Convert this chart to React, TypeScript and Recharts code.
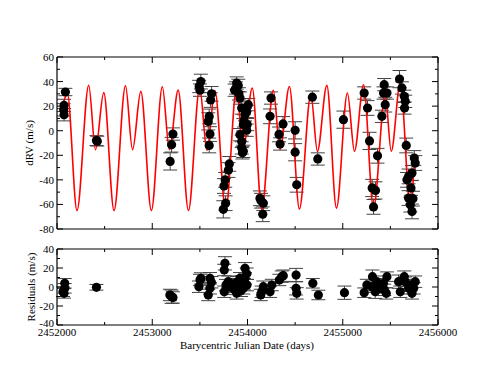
import { ComposedChart, Line, Scatter, ErrorBar, XAxis, YAxis } from "recharts";

// ---------------------------------------------------------------------------
// Data
// ---------------------------------------------------------------------------

const xTicks = [
  2452000, 2452500, 2453000, 2453500, 2454000, 2454500, 2455000, 2455500, 2456000,
];
const rvTicks = [-80, -70, -60, -50, -40, -30, -20, -10, 0, 10, 20, 30, 40, 50, 60];
const resTicks = [-40, -30, -20, -10, 0, 10, 20, 30, 40];

// Keplerian model curve (extrema)
const modelDates = [
  2452053, 2452109, 2452210, 2452333, 2452404, 2452491, 2452599, 2452719, 2452793,
  2452880, 2452991, 2453106, 2453180, 2453272, 2453380, 2453498, 2453574, 2453658,
  2453771, 2453886, 2453953, 2454050, 2454149, 2454271, 2454342, 2454440, 2454545,
  2454665, 2454734, 2454833, 2454934, 2455049, 2455123, 2455218, 2455323, 2455446,
  2455509, 2455604, 2455709, 2455754,
];
const modelRV = [
  18.5, 30, -65, 37, -15.5, 31, -65, 36.6, -15.5,
  32, -65, 35.8, -15.5, 33, -65, 35, -16, 32.5,
  -65, 35.5, -16, 34.8, -64, 32.8, -15, 36, -63.7,
  29.5, -16.8, 36.9, -63, 30.7, -16.8, 37.4, -63, 29.3,
  -16.8, 38.8, -62, -22,
];

// Measured radial velocities
const rvDates = [
  2452074, 2452070, 2452074, 2452088, 2452414, 2452423, 2453188, 2453203, 2453217,
  2453493, 2453501, 2453510, 2453613, 2453623, 2453588, 2453598, 2453606, 2453598,
  2453746, 2453753, 2453766, 2453770, 2453800, 2453809,
  2453865, 2453879, 2453886, 2453903, 2453910, 2453921, 2453921, 2453939, 2453939,
  2453939, 2453947, 2453956, 2453956, 2453963, 2453974, 2453992, 2453992, 2453997,
  2454008, 2454131, 2454142, 2454160, 2454166, 2454237, 2454247, 2454331, 2454342,
  2454373, 2454500, 2454500, 2454517, 2454681, 2454738, 2455007, 2455225, 2455260,
  2455281, 2455309, 2455323, 2455344, 2455365, 2455411, 2455428, 2455435, 2455446,
  2455464, 2455596, 2455621, 2455646, 2455649, 2455656, 2455667, 2455674, 2455691,
  2455691, 2455709, 2455716, 2455727, 2455727, 2455737, 2455751, 2455761,
];
const rvValues = [
  13, 17, 20.6, 31.5, -8, -8.5, -25, -11.4, -2.7,
  36, 33, 40, 25, 30, 7.6, 11.6, -2.7, -12,
  -64, -45, -40, -59, -32, -27,
  33, 34.8, 38.8, 36.9, 30, 26.6, -3.2, 18.5, -8.7,
  -14, -18, 4.9, -16.8, 8, 13, 15.7, 0.4, 5,
  21.2, -55, -57, -68, -59, 11.7, 26.6, -3, -10.8,
  5.5, 0.3, -17.5, -44, 27.3, -23, 9, 30.7, 18.5,
  -8.3, -46.6, -62, -48.6, -20.4, 11.7, 30.7, 37.5, 21.2,
  30.7, 42, 34.8, 28, 18.5, 23.9, -12, -40, -37.2,
  -54.8, -60.2, -46.6, -65.7, -34.4, -55.3, -22.2, -26.3,
];
const rvErrors = [
  5, 5, 5, 3, 4, 4, 7, 6, 5,
  5, 5, 6, 6, 6, 7, 6, 6, 6,
  7, 6, 6, 6, 6, 6,
  5, 5, 5, 5, 5, 5, 5, 5, 5,
  5, 5, 5, 5, 5, 5, 5, 5, 5,
  5, 6, 6, 6, 6, 6, 5, 6, 5,
  6, 7, 7, 6, 5, 5, 7, 5, 6,
  7, 7, 6, 7, 6, 5, 5, 5, 6,
  5, 7, 5, 5, 5, 5, 6, 6, 6,
  6, 6, 6, 6, 6, 6, 6, 6,
];

// Residuals
const resDates = [
  2452081, 2452081, 2452074, 2452063, 2452414, 2453203, 2453185, 2453217,
  2453501, 2453490, 2453511, 2453606, 2453606, 2453588, 2453621,
  2453763, 2453756, 2453756, 2453798, 2453774,
  2453816, 2453837, 2453858, 2453886, 2453890, 2453911, 2453921, 2453932, 2453942,
  2453956, 2453963, 2453974, 2453974, 2453992, 2453995,
  2454149, 2454166, 2454139, 2454237, 2454255, 2454334, 2454360, 2454376,
  2454510, 2454510, 2454517, 2454686, 2454744, 2455018,
  2455225, 2455253, 2455312, 2455306, 2455341, 2455358, 2455393, 2455428, 2455464,
  2455457, 2455436, 2455586, 2455604, 2455646, 2455656, 2455691, 2455709, 2455727,
  2455761, 2455744,
];
const resValues = [
  3.9, -1.4, -6.7, -5, -0.3, -10.2, -8.4, -11,
  7.4, 0.3, 9, 9.2, -1.4, -8.4, 5,
  24.9, 17.9, -5, 5.6, 2,
  0, 3, -2, -6.7, 5, 2, 9.2, -4, 6,
  -1.4, 3, 19.7, 9.2, 14, 2,
  -5, 0.3, -8.4, -5, 2.1, 7.4, 10.9, 11.9,
  12.6, -1.4, -6.7, 3.9, -8.4, -6,
  -6, 2.1, 10.9, 0.3, -5, 5.6, -1.4, 3.9, 10.9,
  -6.7, -3, 5.6, -5, 10.9, 5.6, -1.4, 2.1, -6.7,
  5.6, -1.4,
];
const resErrors = [
  5, 5, 5, 5, 3, 7, 6, 6,
  6, 6, 6, 6, 6, 6, 6,
  7, 6, 6, 6, 6,
  6, 6, 6, 6, 6, 6, 6, 6, 6,
  6, 6, 6, 6, 6, 6,
  6, 6, 6, 6, 6, 6, 6, 6,
  7, 7, 6, 5, 5, 7,
  5, 6, 7, 6, 7, 6, 5, 5, 5,
  6, 6, 7, 6, 6, 5, 6, 6, 6,
  6, 6,
];

const model = modelDates.map((x, i) => ({ x, y: modelRV[i] }));
const rvPoints = rvDates.map((x, i) => ({ x, y: rvValues[i], err: rvErrors[i] }));
const resPoints = resDates.map((x, i) => ({ x, y: resValues[i], err: resErrors[i] }));

// ---------------------------------------------------------------------------
// Axis helpers (inward ticks, Grace-style frame)
// ---------------------------------------------------------------------------

const font = '"Liberation Serif", "Times New Roman", serif';
const fontSize = 11;

type Side = "left" | "right" | "top" | "bottom";

function makeTick(side: Side, labelStep: number, showLabel: boolean, lowest?: number) {
  return (props: any) => {
    const { x, y, payload } = props;
    const v = payload.value as number;
    const major = Math.abs(v % labelStep) < 1e-6;
    const len = major ? 6 : 3;
    let line;
    if (side === "left") line = <line x1={x} y1={y} x2={x + len} y2={y} />;
    else if (side === "right") line = <line x1={x - len} y1={y} x2={x} y2={y} />;
    else if (side === "top") line = <line x1={x} y1={y} x2={x} y2={y + len} />;
    else line = <line x1={x} y1={y - len} x2={x} y2={y} />;

    let label = null;
    if (showLabel && major) {
      // the lowest y label sits a touch higher, as in the reference
      const dy = lowest !== undefined && v === lowest ? 2 : 4;
      label =
        side === "left" ? (
          <text x={x - 3} y={y + dy} textAnchor="end" fill="#000" fontFamily={font} fontSize={fontSize}>
            {v}
          </text>
        ) : (
          <text x={x} y={y + 11} textAnchor="middle" fill="#000" fontFamily={font} fontSize={fontSize}>
            {v}
          </text>
        );
    }
    return (
      <g stroke="#000" strokeWidth={1}>
        {line}
        {label && <g stroke="none">{label}</g>}
      </g>
    );
  };
}

const axisLine = { stroke: "#000", strokeWidth: 1.2 };

function Dot(props: any) {
  const { cx, cy } = props;
  if (cx == null || cy == null) return null;
  return <circle cx={cx} cy={cy} r={4.6} fill="#000" />;
}

// ---------------------------------------------------------------------------
// App
// ---------------------------------------------------------------------------

export default function App() {
  const textStyle: React.CSSProperties = {
    position: "absolute",
    fontFamily: font,
    fontSize,
    color: "#000",
    whiteSpace: "nowrap",
  };

  return (
    <div style={{ position: "absolute", left: 0, top: 0, width: 495, height: 383, background: "#fff" }}>
      {/* Top panel: dRV */}
      <div style={{ position: "absolute", left: 0, top: 0 }}>
        <ComposedChart width={495} height={240} margin={{ top: 56, right: 56, bottom: 10, left: 0 }}>
          <XAxis
            xAxisId="b"
            dataKey="x"
            type="number"
            domain={[2452000, 2456000]}
            ticks={xTicks}
            interval={0}
            height={1}
            tickSize={0}
            tickMargin={0}
            tickLine={false}
            axisLine={axisLine}
            tick={makeTick("bottom", 1000, false)}
            allowDataOverflow
          />
          <XAxis
            xAxisId="t"
            orientation="top"
            dataKey="x"
            type="number"
            domain={[2452000, 2456000]}
            ticks={xTicks}
            interval={0}
            height={1}
            tickSize={0}
            tickMargin={0}
            tickLine={false}
            axisLine={axisLine}
            tick={makeTick("top", 1000, false)}
            allowDataOverflow
          />
          <YAxis
            yAxisId="l"
            dataKey="y"
            type="number"
            domain={[-80, 60]}
            ticks={rvTicks}
            interval={0}
            width={57}
            tickSize={0}
            tickMargin={0}
            tickLine={false}
            axisLine={axisLine}
            tick={makeTick("left", 20, true)}
            allowDataOverflow
          />
          <YAxis
            yAxisId="r"
            orientation="right"
            dataKey="y"
            type="number"
            domain={[-80, 60]}
            ticks={rvTicks}
            interval={0}
            width={1}
            tickSize={0}
            tickMargin={0}
            tickLine={false}
            axisLine={axisLine}
            tick={makeTick("right", 20, false)}
            allowDataOverflow
          />
          <Scatter
            xAxisId="b"
            yAxisId="l"
            data={rvPoints}
            shape={<Dot />}
            isAnimationActive={false}
          >
            <ErrorBar dataKey="err" direction="y" width={7} stroke="#444" strokeWidth={1} />
          </Scatter>
          <Line
            xAxisId="b"
            yAxisId="l"
            data={model}
            dataKey="y"
            type="monotone"
            stroke="#ff0000"
            strokeWidth={1.6}
            dot={false}
            activeDot={false}
            isAnimationActive={false}
          />
        </ComposedChart>
      </div>

      {/* Bottom panel: residuals */}
      <div style={{ position: "absolute", left: 0, top: 0 }}>
        <ComposedChart width={495} height={383} margin={{ top: 248, right: 56, bottom: 28, left: 0 }}>
          <XAxis
            xAxisId="b"
            dataKey="x"
            type="number"
            domain={[2452000, 2456000]}
            ticks={xTicks}
            interval={0}
            height={30}
            tickSize={0}
            tickMargin={0}
            tickLine={false}
            axisLine={axisLine}
            tick={makeTick("bottom", 1000, true)}
            allowDataOverflow
          />
          <XAxis
            xAxisId="t"
            orientation="top"
            dataKey="x"
            type="number"
            domain={[2452000, 2456000]}
            ticks={xTicks}
            interval={0}
            height={1}
            tickSize={0}
            tickMargin={0}
            tickLine={false}
            axisLine={axisLine}
            tick={makeTick("top", 1000, false)}
            allowDataOverflow
          />
          <YAxis
            yAxisId="l"
            dataKey="y"
            type="number"
            domain={[-40, 40]}
            ticks={resTicks}
            interval={0}
            width={57}
            tickSize={0}
            tickMargin={0}
            tickLine={false}
            axisLine={axisLine}
            tick={makeTick("left", 20, true, -40)}
            allowDataOverflow
          />
          <YAxis
            yAxisId="r"
            orientation="right"
            dataKey="y"
            type="number"
            domain={[-40, 40]}
            ticks={resTicks}
            interval={0}
            width={1}
            tickSize={0}
            tickMargin={0}
            tickLine={false}
            axisLine={axisLine}
            tick={makeTick("right", 20, false)}
            allowDataOverflow
          />
          <Scatter
            xAxisId="b"
            yAxisId="l"
            data={resPoints}
            shape={<Dot />}
            isAnimationActive={false}
          >
            <ErrorBar dataKey="err" direction="y" width={7} stroke="#444" strokeWidth={1} />
          </Scatter>
        </ComposedChart>
      </div>

      {/* Axis titles */}
      <div style={{ ...textStyle, left: 29, top: 143, transform: "translate(-50%, -50%) rotate(-90deg)" }}>
        dRV (m/s)
      </div>
      <div style={{ ...textStyle, left: 31, top: 287, transform: "translate(-50%, -50%) rotate(-90deg)" }}>
        Residuals (m/s)
      </div>
      <div style={{ ...textStyle, left: 247, top: 345, transform: "translate(-50%, -50%)" }}>
        Barycentric Julian Date (days)
      </div>
    </div>
  );
}
